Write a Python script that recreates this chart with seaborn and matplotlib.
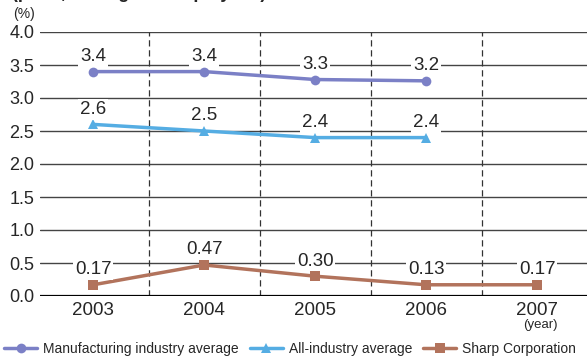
import matplotlib.pyplot as plt
import seaborn as sns
import pandas as pd
from matplotlib.lines import Line2D

# data
years = [2003, 2004, 2005, 2006, 2007]
manufacturing = [3.4, 3.4, 3.3, 3.2, None]
manufacturing_y = [3.40, 3.40, 3.28, 3.26, None]
all_industry = [2.6, 2.5, 2.4, 2.4, None]
sharp = [0.17, 0.47, 0.30, 0.13, 0.17]
sharp_y = [0.17, 0.47, 0.30, 0.17, 0.17]

series = ['Manufacturing industry average', 'All-industry average', 'Sharp Corporation']
colors = ['#7b80c6', '#55ade3', '#b2735c']
markers = ['o', '^', 's']

rows = []
for name, ys in zip(series, [manufacturing_y, all_industry, sharp_y]):
    for yr, v in zip(years, ys):
        if v is not None:
            rows.append({'year': yr, 'value': v, 'series': name})
df = pd.DataFrame(rows)

sns.set_style('white')
plt.rcParams['font.family'] = ['Liberation Sans', 'DejaVu Sans']

fig = plt.figure(figsize=(5.87, 3.58), dpi=100)
ax = fig.add_axes([40 / 587, 1 - 296 / 358, 547 / 587, 264 / 358])

# grid lines
for g in [0.5, 1.0, 1.5, 2.0, 2.5, 3.0, 3.5, 4.0]:
    ax.axhline(g, color='#444444', lw=1.0, zorder=1)
for x in [2003.5, 2004.5, 2005.5, 2006.5]:
    ax.axvline(x, color='#333333', lw=0.9, ls=(0, (5, 3)), zorder=1)
ax.axhline(0, color='black', lw=1.6, zorder=2)

sns.lineplot(data=df, x='year', y='value', hue='series', style='series',
             hue_order=series, palette=colors, markers=dict(zip(series, markers)),
             dashes=False, markersize=7, markeredgewidth=0, lw=2.5,
             ax=ax, legend=False, zorder=3)

# value labels
labels = [manufacturing, all_industry, sharp]
ypos = [manufacturing_y, all_industry, sharp_y]
fmts = ['{:.1f}', '{:.1f}', '{:.2f}']
for lab, yp, fmt in zip(labels, ypos, fmts):
    for yr, v, y in zip(years, lab, yp):
        if v is None:
            continue
        ax.text(yr, y + 0.1, fmt.format(v), ha='center', va='bottom', fontsize=13.5,
                zorder=4, bbox=dict(boxstyle='square,pad=0.1', fc='white', ec='none'))

ax.set_xlim(2002.52, 2007.45)
ax.set_ylim(0, 4.0)
ax.set_xticks(years)
ax.set_xticklabels([str(y) for y in years])
ax.set_yticks([0, 0.5, 1.0, 1.5, 2.0, 2.5, 3.0, 3.5, 4.0])
ax.set_yticklabels(['0.0', '0.5', '1.0', '1.5', '2.0', '2.5', '3.0', '3.5', '4.0'])
ax.tick_params(axis='x', labelsize=13.5, length=0, pad=4)
ax.tick_params(axis='y', labelsize=13, length=0, pad=4)
ax.set_xlabel('')
ax.set_ylabel('')
for s in ax.spines.values():
    s.set_visible(False)

fig.text(13 / 587, 1 - 14 / 358, '(%)', fontsize=10, ha='left', va='center')
fig.text(540 / 587, 1 - 325 / 358, '(year)', fontsize=9.5, ha='center', va='center')
fig.text(12 / 587, 1 + 7 / 358, '(per 1,000 regular employees)', fontsize=13,
         fontweight='bold', ha='left', va='center')

handles = [Line2D([0], [0], color=c, marker=m, lw=2.5, markersize=7, markeredgewidth=0)
           for c, m in zip(colors, markers)]
fig.legend(handles, series, loc='center left', bbox_to_anchor=(4 / 587, 1 - 349 / 358), ncol=3,
           frameon=False, fontsize=10, handlelength=2.4, columnspacing=0.8,
           handletextpad=0.4, borderaxespad=0, borderpad=0)

plt.savefig('out.png', dpi=100)
